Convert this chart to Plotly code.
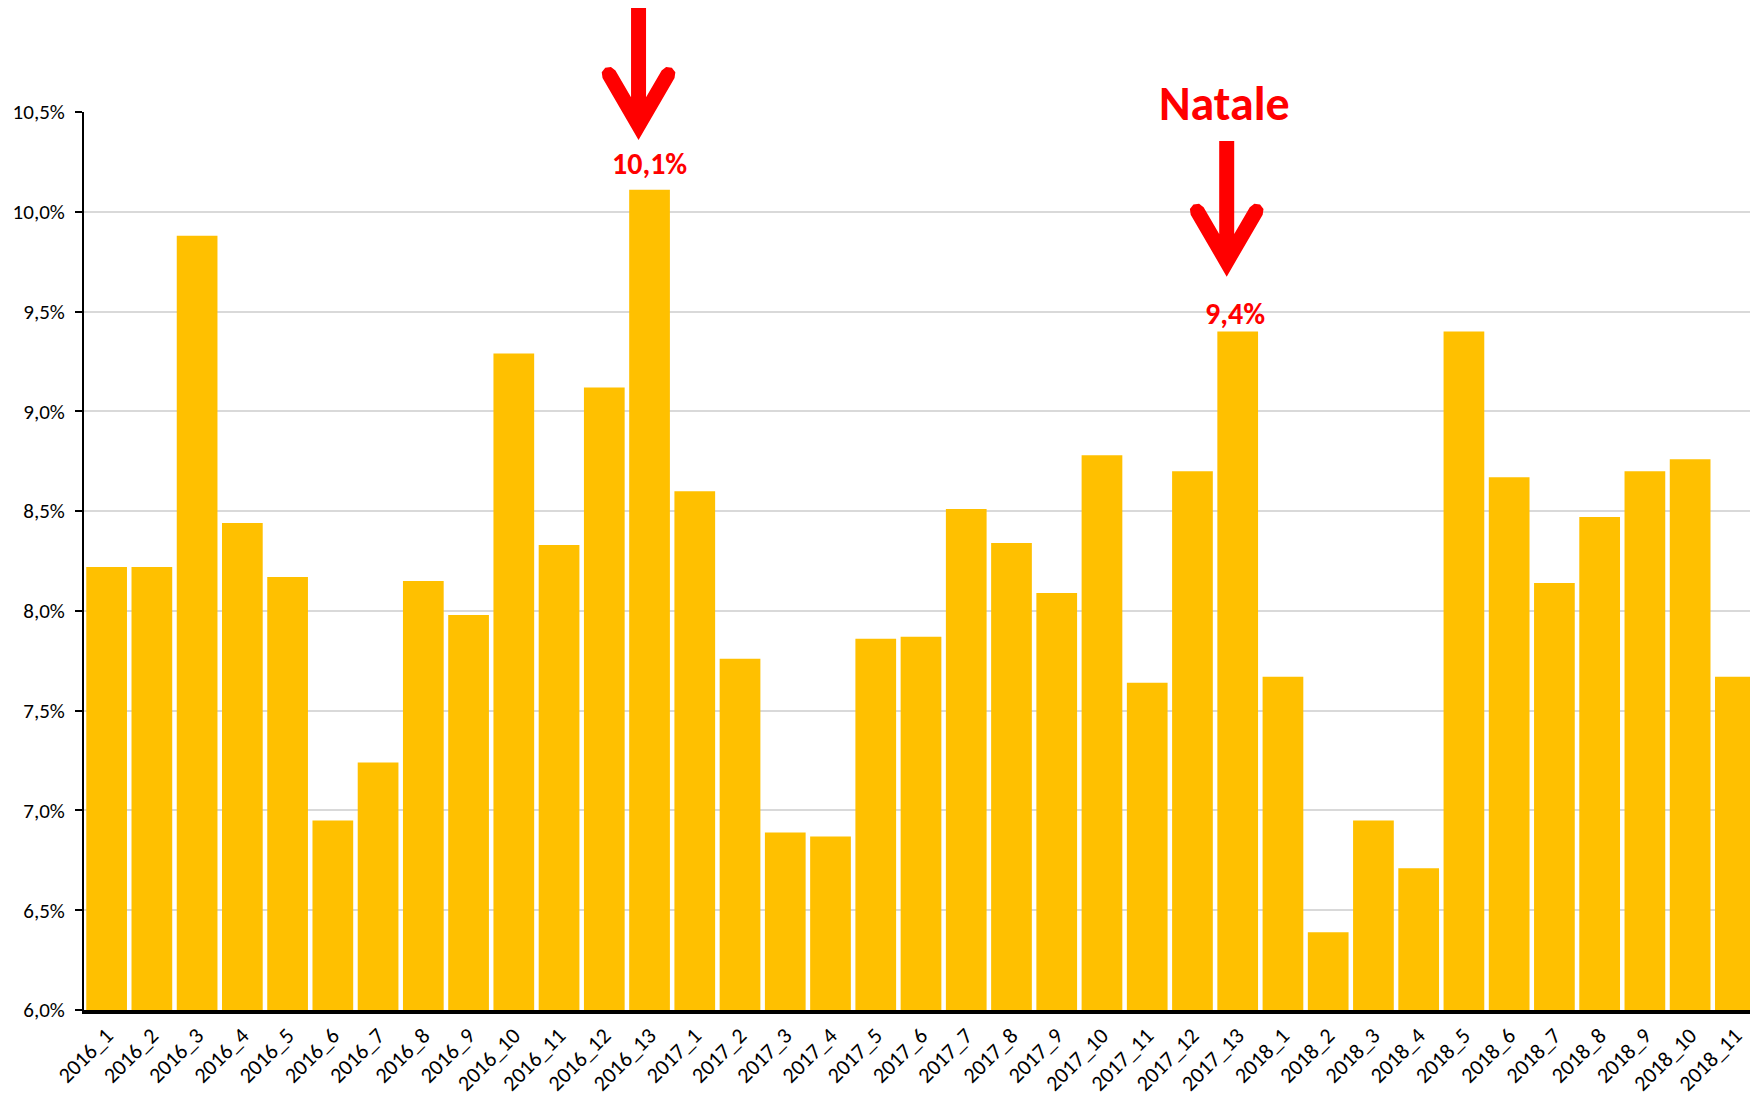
import plotly.graph_objects as go

# Periodi (4 settimane) e quota %
periodi = (
    [f"2016_{i}" for i in range(1, 14)]
    + [f"2017_{i}" for i in range(1, 14)]
    + [f"2018_{i}" for i in range(1, 12)]
)
quote = [
    8.22, 8.22, 9.88, 8.44, 8.17, 6.95, 7.24, 8.15, 7.98, 9.29, 8.33, 9.12, 10.11,
    8.60, 7.76, 6.89, 6.87, 7.86, 7.87, 8.51, 8.34, 8.09, 8.78, 7.64, 8.70, 9.40,
    7.67, 6.39, 6.95, 6.71, 9.40, 8.67, 8.14, 8.47, 8.70, 8.76, 7.67,
]
valori = [q / 100 for q in quote]

# frecce: (periodo, punta %, coda %)
frecce = [("2016_13", 10.36, 11.07), ("2017_13", 9.675, 10.355)]

Y_MIN, Y_MAX = 6.0, 10.5
ROSSO = "#FF0000"
FONT = "Carlito, Liberation Sans, sans-serif"

# dimensioni area del grafico (px)
W, H = 1750, 1087
ML, MR, MT, MB = 76, 0, 104, 85
PW, PH = W - ML - MR, H - MT - MB
N = len(periodi)


def freccia(periodo, punta, coda, dx=-11):
    """percorso (paper) di una freccia rossa con punta a V"""
    i = periodi.index(periodo)
    x0 = (i + 0.5) / N + dx / PW
    y0 = (punta - Y_MIN) / (Y_MAX - Y_MIN)
    lung = ((coda - punta) / (Y_MAX - Y_MIN)) * PH
    pts = [
        (0, 0), (-36, 62), (-36.8, 67.6), (-33.3, 72.2), (-27.6, 73.0), (-23.1, 69.5),
        (-7.5, 42.6), (-7.5, lung), (7.5, lung), (7.5, 42.6),
        (23.1, 69.5), (27.6, 73.0), (33.3, 72.2), (36.8, 67.6), (36, 62),
    ]
    s = " L ".join(f"{x0 + px / PW:.5f},{y0 + py / PH:.5f}" for px, py in pts)
    return "M " + s + " Z"


fig = go.Figure(
    go.Bar(x=periodi, y=valori, marker=dict(color="#FFC000", line=dict(width=0)))
)

for periodo, punta, coda in frecce:
    fig.add_shape(type="path", xref="paper", yref="paper",
                  path=freccia(periodo, punta, coda),
                  fillcolor=ROSSO, line=dict(width=0), layer="above")

fig.add_annotation(x="2016_13", y=quote[12] / 100, yshift=6, yanchor="bottom",
                   text="<b>10,1%</b>", showarrow=False,
                   font=dict(size=30, color=ROSSO, family=FONT))
fig.add_annotation(x="2017_13", y=quote[25] / 100, yshift=-2, xshift=-3, yanchor="bottom",
                   text="<b>9,4%</b>", showarrow=False,
                   font=dict(size=30, color=ROSSO, family=FONT))
fig.add_annotation(x="2017_13", xref="x", yref="paper", y=1.01, xshift=-13,
                   yanchor="middle", text="<b>Natale</b>", showarrow=False,
                   font=dict(size=48, color=ROSSO, family=FONT))

fig.update_layout(
    width=W, height=H,
    margin=dict(l=ML, r=MR, t=MT, b=MB),
    plot_bgcolor="white", paper_bgcolor="white",
    separators=",.",
    bargap=0.1,
    showlegend=False,
    font=dict(family=FONT, color="black"),
)
fig.update_xaxes(
    range=[-0.5, N - 0.5], tickangle=-45, tickfont=dict(size=22),
    showline=True, linecolor="black", linewidth=4, showgrid=False,
    ticks="", automargin=False,
)
fig.update_yaxes(
    range=[Y_MIN / 100, Y_MAX / 100], dtick=0.005, tickformat=".1%",
    tickfont=dict(size=21), automargin=False,
    showline=True, linecolor="black", linewidth=2,
    ticks="outside", ticklen=7, tickwidth=2, tickcolor="black",
    ticklabelstandoff=6,
    showgrid=True, gridcolor="#D9D9D9", gridwidth=2, zeroline=False,
)

fig.write_html("out.html")
